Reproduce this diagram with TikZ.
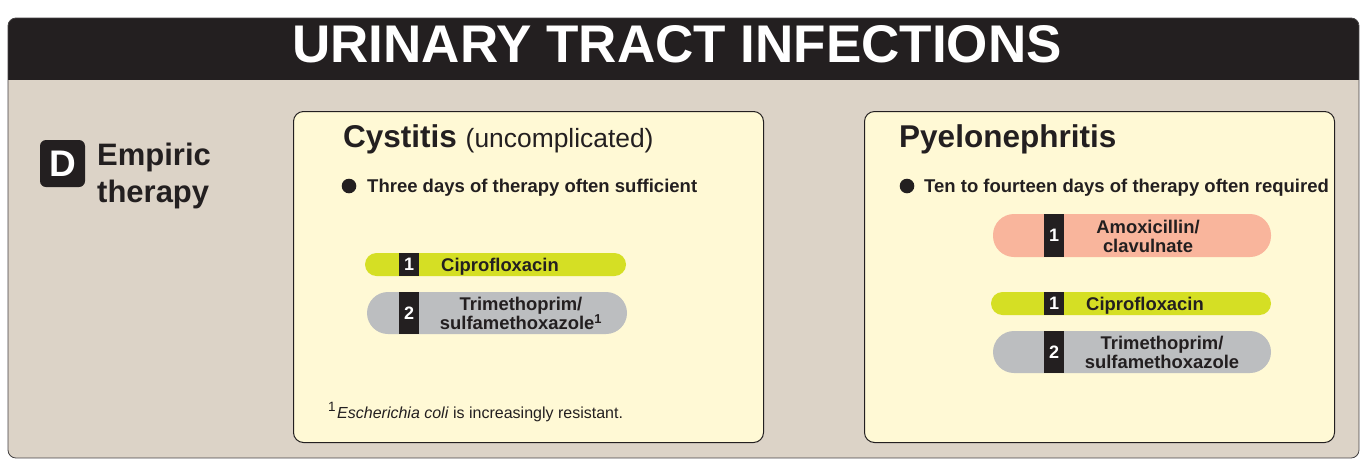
\documentclass[tikz,border=0pt]{standalone}
\usepackage{fontspec}
\setmainfont{Liberation Sans}
\usetikzlibrary{positioning}
\definecolor{ink}{HTML}{231F20}
\definecolor{body}{HTML}{DCD3C7}
\definecolor{panel}{HTML}{FFF9D5}
\definecolor{lime}{HTML}{D5DF24}
\definecolor{pillgray}{HTML}{BCBEC0}
\definecolor{salmon}{HTML}{F9B59C}

\tikzset{
  panelbox/.style={draw=ink, line width=1pt, fill=panel, rounded corners=10pt, anchor=north west, inner sep=0pt},
  pillone/.style={inner sep=0pt, minimum height=23pt, rounded corners=11.5pt},
  pilltwo/.style={inner sep=0pt, minimum height=42pt, rounded corners=21pt},
  numbar/.style={fill=ink, text=white, inner sep=0pt, minimum width=20pt, font=\fontsize{18}{18}\selectfont\bfseries},
  drug/.style={text=ink, inner sep=0pt, align=center, font=\fontsize{18.4}{19}\selectfont\bfseries},
  heading/.style={text=ink, inner sep=0pt, anchor=base west, font=\fontsize{31.5}{34}\selectfont\bfseries},
  bulletline/.style={text=ink, inner sep=0pt, anchor=base west, font=\fontsize{18.5}{20}\selectfont\bfseries}
}

\begin{document}
\begin{tikzpicture}[x=1pt, y=-1pt]
  \useasboundingbox[fill=white] (0,0) rectangle (1367,459);

  % frame and title band
  \begin{scope}
    \clip[rounded corners=8pt] (8,18) rectangle (1359,458);
    \fill[body] (8,18) rectangle (1359,458);
    \fill[ink] (8,18) rectangle (1359,80);
  \end{scope}
  \draw[ink!85, line width=0.8pt, rounded corners=8pt] (8,18) rectangle (1359,458);
  \node[text=white, inner sep=0pt, anchor=base, font=\fontsize{53}{56}\selectfont\bfseries] (title) at (677,62.5) {URINARY TRACT INFECTIONS};

  % section label
  \node[fill=ink, text=white, rounded corners=6pt, minimum width=45pt, minimum height=47pt, inner sep=0pt,
        font=\fontsize{37}{37}\selectfont\bfseries] (tagD) at (62.5,163.5) {D};
  \node[heading, font=\fontsize{31}{34}\selectfont\bfseries] (emp1) at (97,165) {Empiric};
  \node[heading, font=\fontsize{31}{34}\selectfont\bfseries] (emp2) at (97,202) {therapy};

  % cystitis panel
  \node[panelbox, minimum width=470pt, minimum height=331pt] (cyst) at (293,111) {};
  \node[heading] (cysthd) at (343,147) {Cystitis {\mdseries\fontsize{26.4}{28}\selectfont (uncomplicated)}};
  \fill[ink] (349,186) circle (7.3pt);
  \node[bulletline] (cystbul) at (367,192) {Three days of therapy often sufficient};

  \node[pillone, fill=lime, minimum width=261pt] (cipL) at (495.5,264.5) {};
  \node[numbar, minimum height=23pt] (cipLn) at (409,264.5) {1};
  \node[drug, anchor=base] (cipLt) at (500,271) {Ciprofloxacin};

  \node[pilltwo, fill=pillgray, minimum width=260pt] (tmpL) at (497,313) {};
  \node[numbar, minimum height=42pt] (tmpLn) at (409,313) {2};
  \node[drug] (tmpLt) at (521,313.5) {Trimethoprim/\\sulfamethoxazole\textsuperscript{1}};

  \node[text=ink, inner sep=0pt, anchor=base west, font=\fontsize{16}{18}\selectfont] (note) at (328,418)
    {\raisebox{7pt}{\fontsize{13.5}{14}\selectfont 1}\hspace{1.5pt}\textit{Escherichia coli} is increasingly resistant.};

  % pyelonephritis panel
  \node[panelbox, minimum width=470pt, minimum height=331pt] (pyel) at (864,111) {};
  \node[heading] (pyelhd) at (899,147) {Pyelonephritis};
  \fill[ink] (907,186) circle (7.3pt);
  \node[bulletline] (pyelbul) at (924,192) {Ten to fourteen days of therapy often required};

  \node[pilltwo, fill=salmon, minimum width=278pt, minimum height=43pt] (amxR) at (1132,235.5) {};
  \node[numbar, minimum height=43pt] (amxRn) at (1054,235.5) {1};
  \node[drug] (amxRt) at (1148,236) {Amoxicillin/\\clavulnate};

  \node[pillone, fill=lime, minimum width=280pt] (cipR) at (1131,303.5) {};
  \node[numbar, minimum height=23pt] (cipRn) at (1054,303.5) {1};
  \node[drug, anchor=base] (cipRt) at (1145,310) {Ciprofloxacin};

  \node[pilltwo, fill=pillgray, minimum width=278pt] (tmpR) at (1132,352) {};
  \node[numbar, minimum height=42pt] (tmpRn) at (1054,352) {2};
  \node[drug] (tmpRt) at (1162,352.5) {Trimethoprim/\\sulfamethoxazole};
\end{tikzpicture}
\end{document}
